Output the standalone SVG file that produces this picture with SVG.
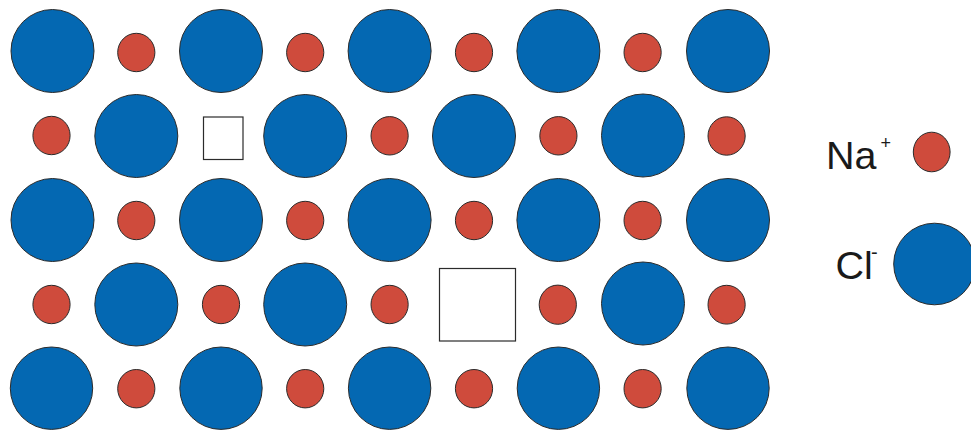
<svg xmlns="http://www.w3.org/2000/svg" width="971" height="430" viewBox="0 0 971 430">
<style>
.cl{fill:#0468b2;stroke:#2b2b2b;stroke-width:1}
.na{fill:#cf4b3c;stroke:#2b2b2b;stroke-width:1}
.vac{fill:#ffffff;stroke:#2b2b2b;stroke-width:1.2}
.lbl{font-family:"Liberation Sans",Arial,sans-serif;fill:#1a1a1a}
</style>
<rect width="971" height="430" fill="#ffffff"/>
<g id="lattice">
<g id="row1">
<circle class="cl" cx="52.5" cy="51" r="41.5"/>
<ellipse class="na" cx="136.3" cy="52.5" rx="18.6" ry="19.2"/>
<circle class="cl" cx="221" cy="51" r="41.5"/>
<ellipse class="na" cx="305.2" cy="52.5" rx="18.6" ry="19.2"/>
<circle class="cl" cx="389.6" cy="51" r="41.5"/>
<ellipse class="na" cx="474" cy="52.5" rx="18.6" ry="19.2"/>
<circle class="cl" cx="558.4" cy="51" r="41.5"/>
<ellipse class="na" cx="642.6" cy="52.5" rx="18.6" ry="19.2"/>
<circle class="cl" cx="728" cy="51" r="41.5"/>
</g>
<g id="row2">
<ellipse class="na" cx="51.5" cy="135.5" rx="18.6" ry="19.2"/>
<circle class="cl" cx="136.3" cy="136" r="41.5"/>
<rect id="vacancy-small" class="vac" x="203.5" y="117" width="39.5" height="42.5"/>
<circle class="cl" cx="305.2" cy="136" r="41.5"/>
<ellipse class="na" cx="389.6" cy="135.8" rx="18.6" ry="19.2"/>
<circle class="cl" cx="474" cy="136" r="41.5"/>
<ellipse class="na" cx="558.4" cy="135.8" rx="18.6" ry="19.2"/>
<circle class="cl" cx="643" cy="135.5" r="41.5"/>
<ellipse class="na" cx="726.6" cy="136" rx="18.6" ry="19.2"/>
</g>
<g id="row3">
<circle class="cl" cx="52.5" cy="220" r="41.5"/>
<ellipse class="na" cx="136.3" cy="220.5" rx="18.6" ry="19.2"/>
<circle class="cl" cx="221" cy="220" r="41.5"/>
<ellipse class="na" cx="305.2" cy="220.5" rx="18.6" ry="19.2"/>
<circle class="cl" cx="389.6" cy="220" r="41.5"/>
<ellipse class="na" cx="474" cy="220.5" rx="18.6" ry="19.2"/>
<circle class="cl" cx="558.4" cy="220" r="41.5"/>
<ellipse class="na" cx="642.6" cy="220.5" rx="18.6" ry="19.2"/>
<circle class="cl" cx="728" cy="220" r="41.5"/>
</g>
<g id="row4">
<ellipse class="na" cx="51.5" cy="304.5" rx="18.6" ry="19.2"/>
<circle class="cl" cx="136.3" cy="304.5" r="41.5"/>
<ellipse class="na" cx="221" cy="304.5" rx="18.6" ry="19.2"/>
<circle class="cl" cx="305.2" cy="304.5" r="41.5"/>
<ellipse class="na" cx="389.6" cy="304.5" rx="18.6" ry="19.2"/>
<rect id="vacancy-large" class="vac" x="439.5" y="268.5" width="76" height="72.5"/>
<ellipse class="na" cx="557.8" cy="304.7" rx="18.6" ry="19.6"/>
<circle class="cl" cx="643" cy="303.5" r="41.5"/>
<ellipse class="na" cx="726.6" cy="304.7" rx="18.6" ry="19.4"/>
</g>
<g id="row5">
<circle class="cl" cx="51.5" cy="388.2" r="41.2"/>
<ellipse class="na" cx="136.3" cy="388.7" rx="18.6" ry="19.2"/>
<circle class="cl" cx="221" cy="388.2" r="41.2"/>
<ellipse class="na" cx="305.2" cy="388.7" rx="18.6" ry="19.2"/>
<circle class="cl" cx="389.6" cy="388.2" r="41.2"/>
<ellipse class="na" cx="474" cy="388.7" rx="18.6" ry="19.2"/>
<circle class="cl" cx="558.4" cy="388.2" r="41.2"/>
<ellipse class="na" cx="642.6" cy="388.7" rx="18.6" ry="19.2"/>
<circle class="cl" cx="728" cy="388.2" r="41.2"/>
</g>
</g>
<g id="legend-na">
<text class="lbl" x="826" y="168.5" font-size="39.5">Na</text>
<text class="lbl" x="880.5" y="149" font-size="18">+</text>
<ellipse class="na" cx="931.7" cy="152" rx="18.4" ry="19.8"/>
</g>
<g id="legend-cl">
<text class="lbl" x="835.5" y="278.5" font-size="39.5">Cl</text>
<text class="lbl" x="871" y="259" font-size="20">-</text>
<circle class="cl" cx="934.5" cy="264" r="40.8"/>
</g>
</svg>
